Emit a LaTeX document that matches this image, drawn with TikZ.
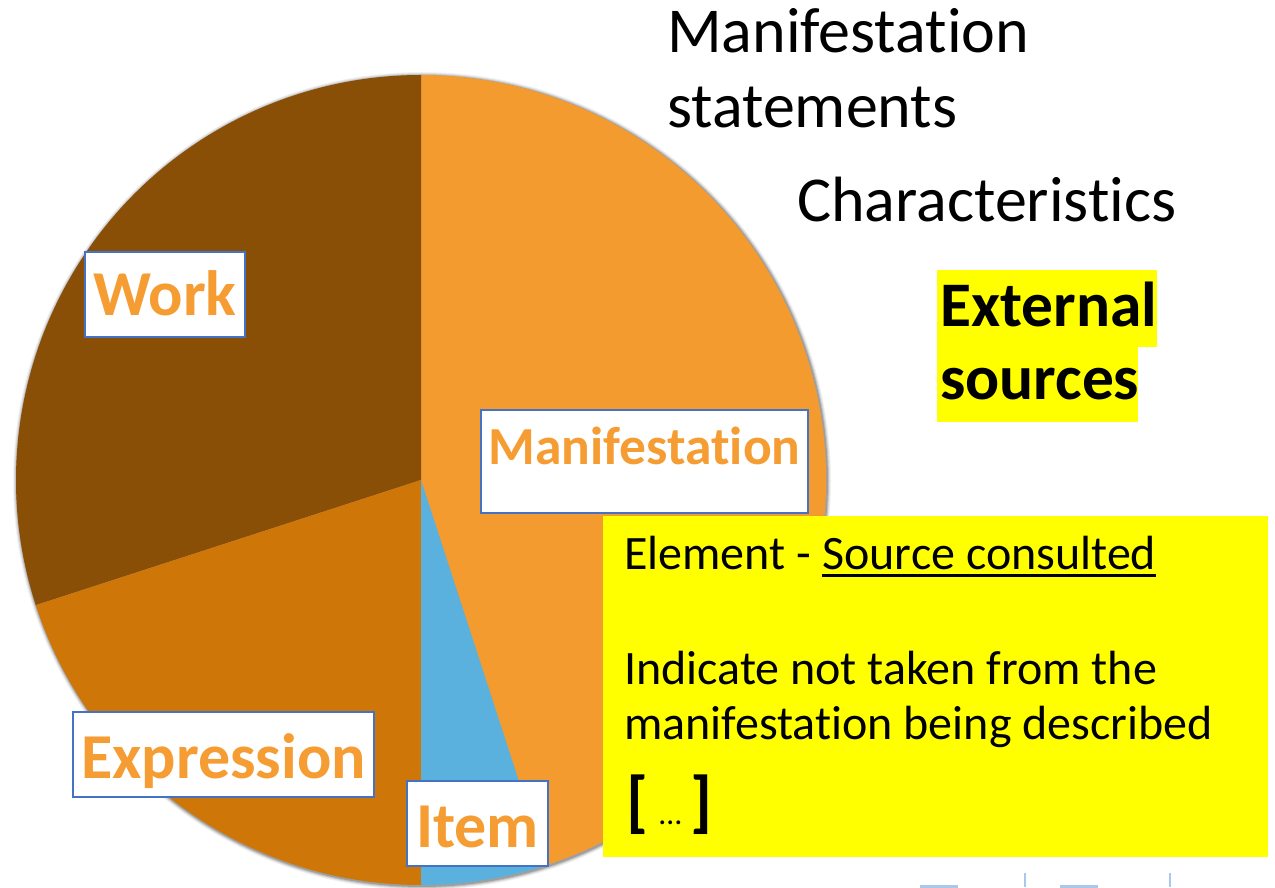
\documentclass[tikz,border=0pt]{standalone}
\usepackage{fontspec}
\setmainfont[Ligatures=NoCommon]{Carlito}
\definecolor{workc}{HTML}{8A4F07}
\definecolor{exprc}{HTML}{CF7608}
\definecolor{manifc}{HTML}{F39B2F}
\definecolor{itemc}{HTML}{5BB1DE}
\definecolor{lblborder}{HTML}{4472C4}
\definecolor{lbltext}{HTML}{F59D33}
\definecolor{hl}{HTML}{FFFF00}
\definecolor{frag}{HTML}{A9C8EC}
\tikzset{
  lbl/.style={draw=lblborder, line width=2pt, fill=white, inner sep=0pt, text=lbltext,
    font=\bfseries\fontsize{64}{64}\selectfont, anchor=base},
  plain/.style={anchor=base west, inner sep=0pt},
  body/.style={plain, font=\fontsize{48}{55}\selectfont},
  title/.style={plain, font=\fontsize{64}{75}\selectfont},
}
\begin{document}
\begin{tikzpicture}[x=1pt,y=1pt]
\useasboundingbox (0,0) rectangle (1275,887);
\fill[white] (0,0) rectangle (1275,887);
\coordinate (c) at (421,407);
% soft shadow
\foreach \r/\o in {409/0.05,408/0.08,407/0.12,406/0.18}{
  \fill[black,opacity=\o] (422,406) circle[radius=\r];}
% slices
\fill[manifc] (c) -- ++(-72:405) arc[start angle=-72,end angle=90,radius=405] -- cycle;
\fill[workc] (c) -- ++(90:405) arc[start angle=90,end angle=198,radius=405] -- cycle;
\fill[exprc] (c) -- ++(198:405) arc[start angle=198,end angle=270,radius=405] -- cycle;
\fill[itemc] (c) -- ++(270:405) arc[start angle=270,end angle=288,radius=405] -- cycle;
% labels
\node[lbl, minimum width=160pt, text height=64pt, text depth=21pt] (work) at (165,571) {Work};
\node[lbl, font=\bfseries\fontsize{53.5}{53.5}\selectfont, minimum width=327pt, text height=55pt, text depth=48pt] (manif) at (644.5,422) {Manifestation};
\node[lbl, minimum width=301pt, text height=66pt, text depth=19pt] (expr) at (223.5,109) {Expression};
\node[lbl, minimum width=141pt, text height=66pt, text depth=19pt] (item) at (477.5,40) {Item};
% top-right texts
\node[title] (ms1) at (667,834) {Manifestation};
\node[title] (ms2) at (667,759) {statements};
\node[title] (chars) at (797,665) {Characteristics};
\fill[hl] (937,617) rectangle (1157,540);
\fill[hl] (937,540) rectangle (1138,465);
\node[plain, font=\bfseries\fontsize{63.5}{75}\selectfont] (ext1) at (940,560) {External};
\node[plain, font=\bfseries\fontsize{63.5}{75}\selectfont] (ext2) at (940,487) {sources};
% yellow note
\node[fill=hl, inner sep=0pt, minimum width=665pt, minimum height=341pt, anchor=south west] (note) at (603,30) {};
\node[body] (l1) at (624,317) {Element -\kern0.226em};
\node[body] (src) at (l1.base east) {Source consulted};
\draw[line width=2.8pt] ([yshift=-5.5pt]src.base west) -- ([yshift=-5.5pt]src.base east);
\node[body] (l2) at (624,202) {Indicate not taken from the};
\node[body] (l3) at (624,147) {manifestation being described};
\node[plain, font=\bfseries\fontsize{68}{68}\selectfont] (br) at (626,63) {[\hspace{11pt}{\mdseries\fontsize{32}{32}\selectfont …}\hspace{9pt}]};
% cut-off fragments at the bottom edge
\draw[frag, line width=2pt] (1025,0) -- (1025,14);
\draw[frag, line width=2pt] (1170,0) -- (1170,14);
\draw[frag, line width=2.5pt] (920,0.5) -- (958,0.5);
\draw[frag, line width=2.5pt] (1060,0.5) -- (1098,0.5);
\end{tikzpicture}
\end{document}
